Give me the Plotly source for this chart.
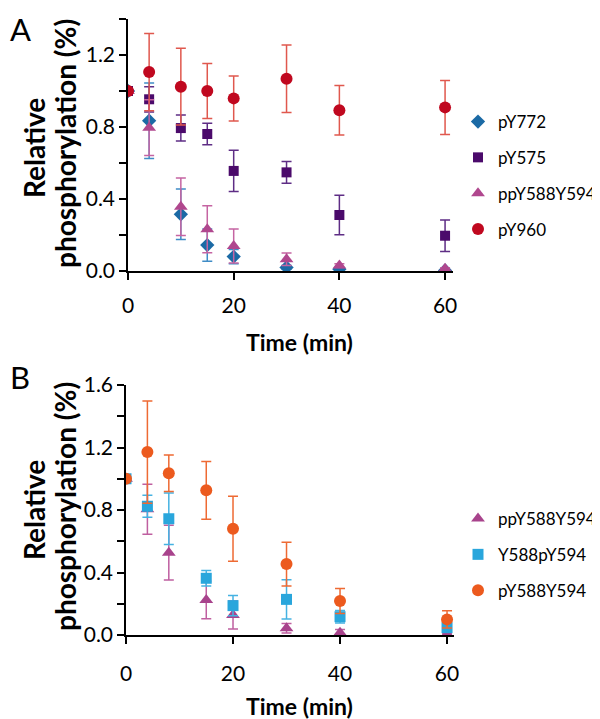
import plotly.graph_objects as go

# ---------------- Data: panel A ----------------
time_A = [0, 4, 10, 15, 20, 30, 40, 60]
pY772 = [1.00, 0.835, 0.315, 0.144, 0.080, 0.020, 0.010, 0.003]
pY772_err = [0.0, 0.21, 0.14, 0.09, 0.04, 0.01, 0.005, 0.003]
pY575 = [1.00, 0.954, 0.794, 0.761, 0.556, 0.548, 0.311, 0.196]
pY575_err = [0.0, 0.07, 0.072, 0.06, 0.115, 0.06, 0.11, 0.088]
ppY588Y594_A = [1.00, 0.796, 0.357, 0.232, 0.139, 0.065, 0.030, 0.013]
ppY588Y594_A_err = [0.0, 0.155, 0.16, 0.13, 0.095, 0.035, 0.01, 0.005]
pY960 = [1.00, 1.105, 1.024, 1.000, 0.959, 1.068, 0.893, 0.909]
pY960_err = [0.0, 0.215, 0.213, 0.153, 0.125, 0.187, 0.137, 0.15]

# ---------------- Data: panel B ----------------
time_B = [0, 4, 8, 15, 20, 30, 40, 60]
ppY588Y594_B = [1.00, 0.805, 0.527, 0.224, 0.128, 0.043, 0.015, 0.004]
ppY588Y594_B_err = [0.0, 0.16, 0.175, 0.12, 0.09, 0.03, 0.02, 0.005]
Y588pY594 = [1.00, 0.824, 0.744, 0.363, 0.188, 0.228, 0.117, 0.047]
Y588pY594_err = [0.0, 0.07, 0.165, 0.05, 0.065, 0.125, 0.04, 0.03]
pY588Y594 = [1.00, 1.171, 1.035, 0.926, 0.680, 0.454, 0.218, 0.100]
pY588Y594_err = [0.0, 0.327, 0.117, 0.185, 0.208, 0.14, 0.08, 0.055]

x_ticks = [0, 20, 40, 60]
y_ticks_A = [0.0, 0.4, 0.8, 1.2]
y_ticks_B = [0.0, 0.4, 0.8, 1.2, 1.6]

FONT = "Lato"
OFF = 8  # page body margin
W, H = 600 - OFF, 719 - OFF


def fx(px):
    return (px - OFF) / W


def fy(py):
    return 1 - (py - OFF) / H


fig = go.Figure()


def add(x, y, err, name, color, ecolor, symbol, size, xa, ya, legend):
    fig.add_trace(go.Scatter(
        x=x, y=y, mode="markers", name=name,
        marker=dict(color=color, symbol=symbol, size=size, line=dict(width=0)),
        error_y=dict(type="data", array=err, visible=True, color=ecolor,
                     thickness=1.5, width=5),
        xaxis=xa, yaxis=ya, legend=legend, legendgroup=name + legend,
    ))


add(time_A, pY772, pY772_err, "pY772", "#1B6AA5", "#3F8CC6", "diamond", 11, "x", "y", "legend")
add(time_A, pY575, pY575_err, "pY575", "#4B0A6B", "#5E2D85", "square", 10, "x", "y", "legend")
add(time_A, ppY588Y594_A, ppY588Y594_A_err, "ppY588Y594", "#B0478E", "#C564A2", "triangle-up", 12, "x", "y", "legend")
add(time_A, pY960, pY960_err, "pY960", "#C0081F", "#E0584E", "circle", 12, "x", "y", "legend")

add(time_B, ppY588Y594_B, ppY588Y594_B_err, "ppY588Y594", "#A8438C", "#BF5FA0", "triangle-up", 12, "x2", "y2", "legend2")
add(time_B, Y588pY594, Y588pY594_err, "Y588pY594", "#29A6DC", "#45B2E2", "square", 11, "x2", "y2", "legend2")
add(time_B, pY588Y594, pY588Y594_err, "pY588Y594", "#EC5A1E", "#EE6A33", "circle", 12, "x2", "y2", "legend2")

axis_common = dict(
    showgrid=False, zeroline=False, showline=True, linecolor="black", linewidth=1.5,
    ticks="outside", ticklen=7, tickwidth=1.5, tickcolor="black",
    tickfont=dict(family=FONT, size=21, color="black"),
)
minor_ticks = dict(dtick=0.2, ticks="outside", ticklen=7, tickwidth=1.5, tickcolor="black")

fig.update_layout(
    width=W, height=H, paper_bgcolor="white", plot_bgcolor="white",
    margin=dict(l=0, r=0, t=0, b=0, autoexpand=False),
    font=dict(family=FONT, color="black"),
    xaxis=dict(domain=[fx(128), fx(453)], range=[0, 61.5], tickvals=x_ticks,
               ticklabelstandoff=8, anchor="y", **axis_common),
    yaxis=dict(domain=[fy(271), fy(19)], range=[0, 1.4], tickvals=y_ticks_A,
               tickformat=".1f", anchor="x", minor=minor_ticks, **axis_common),
    xaxis2=dict(domain=[fx(126), fx(454)], range=[0, 61.3], tickvals=x_ticks,
                ticklabelstandoff=12, anchor="y2", **axis_common),
    yaxis2=dict(domain=[fy(635), fy(385)], range=[0, 1.6], tickvals=y_ticks_B,
                tickformat=".1f", anchor="x2", minor=minor_ticks, **axis_common),
    legend=dict(x=fx(458), y=fy(104), xanchor="left", yanchor="top",
                font=dict(family=FONT, size=17, color="black"), tracegroupgap=10.7,
                bgcolor="rgba(0,0,0,0)"),
    legend2=dict(x=fx(458), y=fy(501), xanchor="left", yanchor="top",
                 font=dict(family=FONT, size=17, color="black"), tracegroupgap=10.7,
                 bgcolor="rgba(0,0,0,0)"),
    showlegend=True,
)

ann = [
    dict(text="A", x=fx(8), y=fy(8), xanchor="left", yanchor="top", font=dict(size=31)),
    dict(text="B", x=fx(8), y=fy(377), xanchor="left", yanchor="middle", font=dict(size=31)),
    dict(text="<b>Relative</b>", x=fx(34), y=fy(148), textangle=-90,
         xanchor="center", yanchor="middle", font=dict(size=28)),
    dict(text="<b>phosphorylation (%)</b>", x=fx(65), y=fy(144), textangle=-90,
         xanchor="center", yanchor="middle", font=dict(size=28)),
    dict(text="<b>Relative</b>", x=fx(34), y=fy(510), textangle=-90,
         xanchor="center", yanchor="middle", font=dict(size=28)),
    dict(text="<b>phosphorylation (%)</b>", x=fx(65), y=fy(507), textangle=-90,
         xanchor="center", yanchor="middle", font=dict(size=28)),
    dict(text="<b>Time (min)</b>", x=fx(299), y=fy(342), xanchor="center", yanchor="middle",
         font=dict(size=23)),
    dict(text="<b>Time (min)</b>", x=fx(299), y=fy(706), xanchor="center", yanchor="middle",
         font=dict(size=23)),
]
for a in ann:
    a.update(xref="paper", yref="paper", showarrow=False)
    a["font"].update(family=FONT, color="black")
fig.update_layout(annotations=ann)

fig.write_html("out.html")
